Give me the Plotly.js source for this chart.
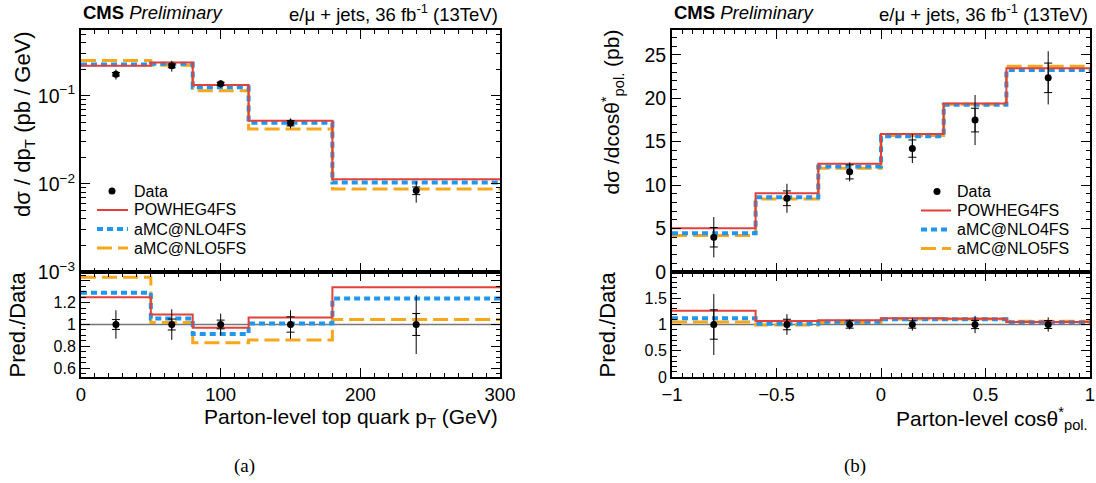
<!DOCTYPE html>
<html>
<head>
<meta charset="utf-8">
<script src="https://cdn.plot.ly/plotly-3.0.1.min.js"></script>
<style>html,body{margin:0;padding:0;background:#fff;}#plot{width:1096px;height:483px;}</style>
</head>
<body>
<div id="plot"></div>
<script>
// ---- Panel (a): top quark pT ----
const ptEdges   = [0, 50, 80, 120, 180, 300];
const ptCenters = [25, 65, 100, 150, 240];
const ptData    = [0.176, 0.219, 0.137, 0.049, 0.0084];
const ptStatRel = [0.045, 0.05, 0.04, 0.07, 0.10];
const ptTotRel  = [0.13, 0.14, 0.10, 0.13, 0.27];
const ptPowheg  = [0.220, 0.239, 0.133, 0.0521, 0.01126];
const ptAmc4    = [0.227, 0.231, 0.125, 0.0495, 0.0104];
const ptAmc5    = [0.252, 0.223, 0.114, 0.0421, 0.00878];

// ---- Panel (b): cos theta* pol. ----
const cosEdges   = [-1, -0.6, -0.3, 0, 0.3, 0.6, 1];
const cosCenters = [-0.8, -0.45, -0.15, 0.15, 0.45, 0.8];
const cosData    = [4.0, 8.48, 11.52, 14.2, 17.48, 22.34];
const cosStatRel = [0.28, 0.10, 0.07, 0.07, 0.078, 0.076];
const cosTotRel  = [0.58, 0.197, 0.095, 0.117, 0.165, 0.137];
const cosPowheg  = [5.04, 9.05, 12.44, 15.88, 19.39, 23.44];
const cosAmc4    = [4.47, 8.59, 12.14, 15.61, 19.24, 23.25];
const cosAmc5    = [4.19, 8.40, 11.95, 15.70, 19.30, 23.67];

const seriesNames = ['Data', 'POWHEG4FS', 'aMC@NLO4FS', 'aMC@NLO5FS'];
const logTickVals = [0.001, 0.01, 0.1];
const logTickText = ['10<sup>\u22123</sup>', '10<sup>\u22122</sup>', '10<sup>\u22121</sup>'];

const RED = '#e4403b', BLUE = '#1f97ef', ORANGE = '#f7a71c';
const FONT = 'Liberation Sans, Arial, Helvetica, sans-serif';

const styles = [
  {color: RED, width: 2, dash: 'solid'},
  {color: BLUE, width: 4, dash: '6px,4px'},
  {color: ORANGE, width: 3, dash: '15px,6px'}
];

function step(v) { return v.concat([v[v.length - 1]]); }
function ratio(p, d) { return p.map((v, i) => v / d[i]); }
function mul(a, b) { return a.map((v, i) => v * b[i]); }

function panelTraces(edges, centers, data, stat, tot, preds, xa, ya, xr, yr) {
  const tr = [];
  [2, 1, 0].forEach(k => {
    const ln = {shape: 'hv', color: styles[k].color, width: styles[k].width, dash: styles[k].dash};
    tr.push({x: edges, y: step(preds[k]), xaxis: xa, yaxis: ya, mode: 'lines', line: ln,
      name: seriesNames[k + 1], showlegend: false, hoverinfo: 'skip'});
    tr.push({x: edges, y: step(ratio(preds[k], data)), xaxis: xr, yaxis: yr, mode: 'lines', line: ln,
      showlegend: false, hoverinfo: 'skip'});
  });
  const ones = data.map(() => 1);
  tr.push({x: centers, y: data, xaxis: xa, yaxis: ya, mode: 'markers',
    marker: {color: 'rgba(0,0,0,0)', size: 1},
    error_y: {type: 'data', array: mul(data, stat), color: '#000', thickness: 1, width: 4},
    showlegend: false, hoverinfo: 'skip'});
  tr.push({x: centers, y: ones, xaxis: xr, yaxis: yr, mode: 'markers',
    marker: {color: 'rgba(0,0,0,0)', size: 1},
    error_y: {type: 'data', array: stat, color: '#000', thickness: 1, width: 4},
    showlegend: false, hoverinfo: 'skip'});
  tr.push({x: centers, y: data, xaxis: xa, yaxis: ya, mode: 'markers',
    marker: {color: '#000', size: 7},
    error_y: {type: 'data', array: mul(data, tot), color: '#000', thickness: 1, width: 0},
    name: 'Data', showlegend: false, hoverinfo: 'skip'});
  tr.push({x: centers, y: ones, xaxis: xr, yaxis: yr, mode: 'markers',
    marker: {color: '#000', size: 7},
    error_y: {type: 'data', array: tot, color: '#000', thickness: 1, width: 0},
    showlegend: false, hoverinfo: 'skip'});
  return tr;
}

const traces = [].concat(
  panelTraces(ptEdges, ptCenters, ptData, ptStatRel, ptTotRel, [ptPowheg, ptAmc4, ptAmc5], 'x', 'y', 'x2', 'y2'),
  panelTraces(cosEdges, cosCenters, cosData, cosStatRel, cosTotRel, [cosPowheg, cosAmc4, cosAmc5], 'x3', 'y3', 'x4', 'y4')
);

const W = 1096, H = 483;
const px = v => v / W;
const py = v => 1 - v / H;

function axis(extra, fs) {
  return Object.assign({
    showline: true, mirror: 'allticks', linecolor: '#000', linewidth: 2,
    ticks: 'inside', ticklen: 9, tickwidth: 1, tickcolor: '#000',
    showgrid: false, zeroline: false, tickfont: {family: FONT, size: fs || 19, color: '#000'}, fixedrange: true
  }, extra);
}
const minor = (d) => ({ticks: 'inside', ticklen: 4.5, tickwidth: 1, tickcolor: '#000', dtick: d, showgrid: false});

const topDom = [py(272), py(29.5)];
const botDom = [py(377), py(272)];
const leftDom = [px(81), px(500)];
const rightDom = [px(672), px(1090)];

// manual legends (layout only)
const shapes = [
  {type: 'line', xref: 'x2 domain', yref: 'y2', x0: 0, x1: 1, y0: 1, y1: 1, line: {color: '#777', width: 1.5}, layer: 'below'},
  {type: 'line', xref: 'x4 domain', yref: 'y4', x0: 0, x1: 1, y0: 1, y1: 1, line: {color: '#777', width: 1.5}, layer: 'below'}
];
const annotations = [];
const legendFont = {family: FONT, size: 16, color: '#000'};
function addLegend(lineX0, lineX1, dotX, textX, ys) {
  shapes.push({type: 'circle', xref: 'paper', yref: 'paper', x0: px(dotX - 3.5), x1: px(dotX + 3.5),
    y0: py(ys[0] + 3.5), y1: py(ys[0] - 3.5), fillcolor: '#000', line: {width: 0}});
  annotations.push({text: seriesNames[0], xref: 'paper', yref: 'paper', x: px(textX), y: py(ys[0]),
    xanchor: 'left', yanchor: 'middle', showarrow: false, font: legendFont});
  for (let k = 0; k < 3; k++) {
    shapes.push({type: 'line', xref: 'paper', yref: 'paper', x0: px(lineX0), x1: px(lineX1),
      y0: py(ys[k + 1]), y1: py(ys[k + 1]),
      line: {color: styles[k].color, width: styles[k].width, dash: styles[k].dash}});
    annotations.push({text: seriesNames[k + 1], xref: 'paper', yref: 'paper', x: px(textX), y: py(ys[k + 1]),
      xanchor: 'left', yanchor: 'middle', showarrow: false, font: legendFont});
  }
}
addLegend(97, 128, 112, 132, [191, 210, 229, 248]);
addLegend(921, 951, 937, 955, [191.5, 210.5, 229.5, 248.5]);

const hdr = {family: FONT, size: 18.5, color: '#000'};
const ttl = {family: FONT, size: 21, color: '#000'};
const serif = {family: 'Liberation Serif, Times New Roman, serif', size: 19, color: '#000'};
function ann(text, x, y, xa, ya, font, angle) {
  const a = {text: text, xref: 'paper', yref: 'paper', x: px(x), y: py(y), xanchor: xa, yanchor: ya, showarrow: false, font: font};
  if (angle !== undefined) a.textangle = angle;
  annotations.push(a);
}
ann('<b>CMS</b> <i>Preliminary</i>', 81, 13, 'left', 'middle', hdr);
ann('e/\u03bc + jets, 36 fb<sup>-1</sup> (13TeV)', 500, 13, 'right', 'middle', hdr);
ann('<b>CMS</b> <i>Preliminary</i>', 672, 13, 'left', 'middle', hdr);
ann('e/\u03bc + jets, 36 fb<sup>-1</sup> (13TeV)', 1090, 13, 'right', 'middle', hdr);
ann('d\u03c3 / dp<sub>T</sub> (pb / GeV)', 24, 29, 'center', 'top', {family: FONT, size: 22, color: '#000'}, -90);
ann('Pred./Data', 17, 324.5, 'center', 'middle', {family: FONT, size: 22, color: '#000'}, -90);
ann('d\u03c3 /dcos\u03b8<sup>*</sup><sub>pol.</sub> (pb)', 612, 28, 'center', 'top', {family: FONT, size: 21, color: '#000'}, -90);
ann('Pred./Data', 607, 324.5, 'center', 'middle', {family: FONT, size: 22, color: '#000'}, -90);
ann('Parton-level top quark p<sub>T</sub> (GeV)', 500, 418, 'right', 'middle', ttl);
ann('Parton-level cos\u03b8<sup>*</sup><sub>pol.</sub>', 1090, 418, 'right', 'middle', ttl);
ann('(a)', 244, 466, 'center', 'middle', serif);
ann('(b)', 855, 466, 'center', 'middle', serif);

const layout = {
  width: W, height: H,
  margin: {l: 0, r: 0, t: 0, b: 0},
  paper_bgcolor: '#fff', plot_bgcolor: 'rgba(0,0,0,0)',
  font: {family: FONT, color: '#000'},
  showlegend: false,
  xaxis: axis({domain: leftDom, anchor: 'y', range: [0, 300], dtick: 100, showticklabels: false, minor: minor(10)}),
  yaxis: axis({domain: topDom, anchor: 'x', type: 'log', range: [-3, -0.247],
    tickvals: logTickVals, ticktext: logTickText, minor: minor('D1')}, 19.5),
  xaxis2: axis({domain: leftDom, anchor: 'y2', range: [0, 300], dtick: 100, minor: minor(10)}, 18.5),
  yaxis2: axis({domain: botDom, anchor: 'x2', range: [0.52, 1.48],
    tickvals: [0.6, 0.8, 1, 1.2, 1.4], ticktext: ['0.6', '0.8', '1', '1.2', ''], minor: minor(0.05)}, 16),
  xaxis3: axis({domain: rightDom, anchor: 'y3', range: [-1, 1], dtick: 0.5, showticklabels: false, minor: minor(0.05)}),
  yaxis3: axis({domain: topDom, anchor: 'x3', range: [0, 27.9], dtick: 5, minor: minor(1)}, 19.5),
  xaxis4: axis({domain: rightDom, anchor: 'y4', range: [-1, 1], dtick: 0.5, minor: minor(0.05)}, 18.5),
  yaxis4: axis({domain: botDom, anchor: 'x4', range: [0, 2],
    tickvals: [0, 0.5, 1, 1.5], ticktext: ['0', '0.5', '1', '1.5'], minor: minor(0.1)}, 16),
  shapes: shapes,
  annotations: annotations
};

Plotly.newPlot('plot', traces, layout, {staticPlot: true, displayModeBar: false});
</script>
</body>
</html>
